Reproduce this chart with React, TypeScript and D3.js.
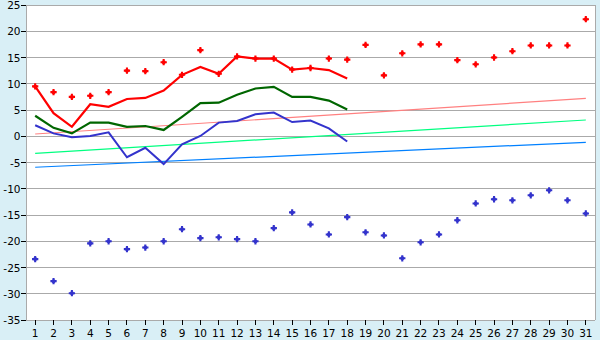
import React from "react";
import * as d3 from "d3";

const days = d3.range(1, 32).map(String);
const yTicks = [25, 20, 15, 10, 5, 0, -5, -10, -15, -20, -25, -30, -35];

const maxLine = [9.5, 4.4, 1.8, 6.1, 5.6, 7.1, 7.3, 8.7, 11.7, 13.2, 11.9, 15.2, 14.8, 14.8, 12.7, 13.0, 12.6, 11.0];
const meanLine = [3.9, 1.6, 0.55, 2.6, 2.6, 1.8, 1.95, 1.2, 3.7, 6.3, 6.4, 7.9, 9.1, 9.4, 7.5, 7.5, 6.8, 5.1];
const minLine = [2.1, 0.55, -0.2, 0.05, 0.75, -4.0, -2.2, -5.3, -1.55, 0.05, 2.6, 2.9, 4.2, 4.5, 2.7, 3.0, 1.5, -1.0];

const maxRecord = [9.5, 8.4, 7.5, 7.7, 8.4, 12.5, 12.4, 14.1, 11.7, 16.4, 11.9, 15.2, 14.8, 14.8, 12.7, 13.0, 14.8, 14.6, 17.4, 11.6, 15.8, 17.5, 17.5, 14.5, 13.7, 15.0, 16.2, 17.3, 17.3, 17.3, 22.3];
const minRecord = [-23.4, -27.6, -29.9, -20.4, -20.0, -21.5, -21.2, -20.0, -17.7, -19.4, -19.25, -19.6, -20.0, -17.5, -14.5, -16.8, -18.7, -15.4, -18.3, -18.9, -23.25, -20.2, -18.7, -16.0, -12.8, -12.0, -12.2, -11.25, -10.3, -12.2, -14.7];

const trendMax = [0.43, 7.2];
const trendMean = [-3.25, 3.1];
const trendMin = [-5.9, -1.15];

const W = 600, H = 340;
const L = 26, R = 595, T = 5, B = 320;

export default function App() {
  const x = d3.scaleBand<string>().domain(days).range([L, R]);
  const cx = (i: number) => (x(days[i]) as number) + x.bandwidth() / 2;
  const y = d3.scaleLinear().domain([-35, 25]).range([B, T]);
  const line = d3.line<number>().x((_, i) => cx(i)).y((v) => y(v));
  const cross = d3.symbol().type(d3.symbolCross).size(22)();
  const font = "DejaVu Sans, Verdana, sans-serif";

  const trend = (tv: number[], color: string) => (
    <line x1={cx(0)} y1={y(tv[0])} x2={cx(30)} y2={y(tv[1])} stroke={color} strokeWidth={1.2} />
  );

  const marker = (v: number, i: number, color: string, key: string) => (
    <g key={key} transform={`translate(${cx(i)},${y(v)})`}>
      <path d={cross || ""} fill={color} />
      <circle r={2} fill={color} />
    </g>
  );

  return (
    <svg width={W} height={H} style={{ position: "absolute", left: 0, top: 0, display: "block" }}>
      <rect x={0} y={0} width={W} height={H} fill="#d9eff6" />
      <rect x={L} y={T} width={R - L} height={B - T} fill="#ffffff" />
      {yTicks.map((t) => (
        <g key={t}>
          <line x1={L} x2={R} y1={y(t)} y2={y(t)} stroke="#aaaaaa" strokeWidth={1} shapeRendering="crispEdges" />
          <line x1={L - 5} x2={L} y1={y(t)} y2={y(t)} stroke="#000" strokeWidth={1} shapeRendering="crispEdges" />
          <text x={L - 5.5} y={y(t) + 4} textAnchor="end" fontSize={10.5} fontFamily={font} fill="#000">
            {String(t)}
          </text>
        </g>
      ))}
      <line x1={L} x2={L} y1={T} y2={B} stroke="#aaaaaa" shapeRendering="crispEdges" />
      <line x1={R} x2={R} y1={T} y2={B} stroke="#aaaaaa" shapeRendering="crispEdges" />
      {days.map((d, i) => (
        <g key={d}>
          <line x1={cx(i)} x2={cx(i)} y1={B} y2={B + 5} stroke="#000" shapeRendering="crispEdges" />
          <text x={cx(i)} y={B + 17} textAnchor="middle" fontSize={10.5} fontFamily={font} fill="#000">
            {d}
          </text>
        </g>
      ))}
      {trend(trendMax, "#ff8080")}
      {trend(trendMean, "#00ff80")}
      {trend(trendMin, "#0080ff")}
      <path d={line(minLine) || ""} fill="none" stroke="#3333cc" strokeWidth={2} />
      <path d={line(meanLine) || ""} fill="none" stroke="#006600" strokeWidth={2.2} />
      <path d={line(maxLine) || ""} fill="none" stroke="#ff0000" strokeWidth={2.2} />
      {maxRecord.map((v, i) => marker(v, i, "#ff0000", "mx" + i))}
      {minRecord.map((v, i) => marker(v, i, "#3333cc", "mn" + i))}
    </svg>
  );
}
